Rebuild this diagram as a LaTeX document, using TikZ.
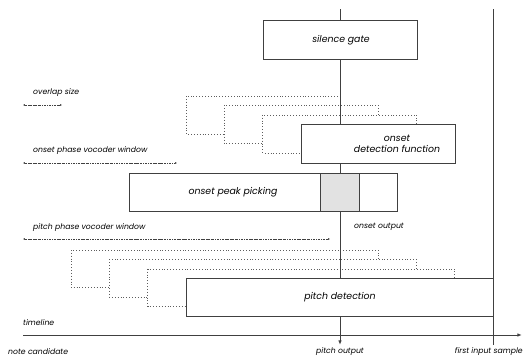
\documentclass[tikz,border=0pt]{standalone}
\usepackage{fontspec}
\setmainfont{Poppins}
\usepackage{tikz}
\usetikzlibrary{arrows.meta}

\definecolor{linegray}{HTML}{404040}
\definecolor{shade}{HTML}{E2E2E2}

\tikzset{
  stage/.style={draw=linegray,line width=0.8pt,fill=white,font=\itshape\fontsize{8}{9.5}\selectfont},
  ghost/.style={draw=linegray!85,dotted,line width=0.45pt,fill=white},
  lbl/.style={font=\itshape\fontsize{6.6}{7.5}\selectfont,inner sep=0pt,anchor=west},
  span/.style={linegray,line width=0.5pt,dash pattern=on 2pt off 0.8pt on 0.5pt off 0.8pt,
    {Latex[length=1.6pt,width=1.6pt]}-{Latex[length=1.6pt,width=1.6pt]}},
  axis/.style={linegray,line width=0.8pt}
}

\begin{document}
\begin{tikzpicture}[x=0.03cm,y=-0.03cm,>=Latex]
  \useasboundingbox (0,0) rectangle (525,358);
  % overlapping analysis windows
  \foreach \i in {0,1,2}{
    \draw[ghost] ({186+38.3*\i},{96+9.4*\i}) rectangle +(154,38);
    \draw[ghost] ({71+38.3*\i},{250+9.4*\i}) rectangle +(307,37.5);
  }
  % time axes
  \coordinate (top) at (340,9);
  \coordinate (pout) at (340,345);
  \coordinate (ftop) at (493,9);
  \coordinate (fend) at (493,345);
  \coordinate (tl0) at (23,335);
  \coordinate (tl1) at (522,335);
  \draw[axis,-{Latex[length=4pt,width=3pt]}] (top) -- (pout);
  \draw[axis] (ftop) -- (fend);
  \draw[axis,-{Latex[length=4pt,width=3pt]}] (tl0) -- (tl1);
  % processing stages
  \draw[stage] (263,20) rectangle (417,59);
  \node[stage,draw=none,fill=none] (sg) at (341,40) {silence gate};
  \draw[stage] (301,124) rectangle (455,163);
  \node[stage,draw=none,fill=none,align=center] (odf) at (397,143.5) {onset\\detection function};
  \draw[stage] (129,173) rectangle (397,211);
  \draw[stage,fill=shade] (320,173) rectangle (359,211);
  \node[stage,draw=none,fill=none] (opp) at (233,192) {onset peak picking};
  \draw[stage] (186,278) rectangle (493,316);
  \node[stage,draw=none,fill=none] (pd) at (340,297) {pitch detection};
  % sizes
  \node[lbl] (ovl) at (33,93) {overlap size};
  \coordinate (ov0) at (23,105);
  \coordinate (ov1) at (62,105);
  \draw[span] (ov0) -- (ov1);
  \node[lbl] (opv) at (33,151) {onset phase vocoder window};
  \coordinate (op0) at (23,163);
  \coordinate (op1) at (177,163);
  \draw[span] (op0) -- (op1);
  \node[lbl] (ppv) at (33,228) {pitch phase vocoder window};
  \coordinate (pp0) at (23,239);
  \coordinate (pp1) at (330,239);
  \draw[span] (pp0) -- (pp1);
  % labels
  \node[lbl] (oout) at (354,227) {onset output};
  \node[lbl] (tl) at (23,323) {timeline};
  \node[lbl] (nc) at (8,352) {note candidate};
  \node[lbl,anchor=center] (po) at (340,352) {pitch output};
  \node[lbl,anchor=east] (fis) at (523,352) {first input sample};
\end{tikzpicture}
\end{document}
